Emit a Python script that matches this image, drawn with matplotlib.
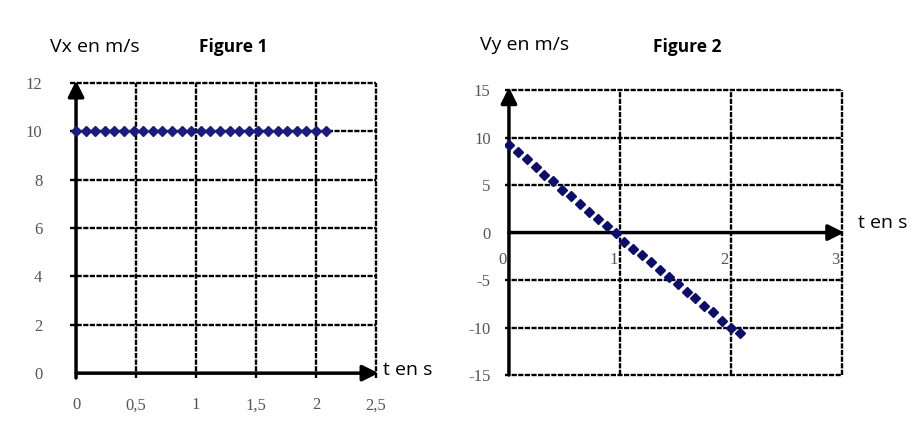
import matplotlib
matplotlib.use('Agg')
import matplotlib.pyplot as plt
import numpy as np

# Figure 1 : Vx(t), constant
t1 = [0.00, 0.08, 0.16, 0.24, 0.32, 0.40, 0.48, 0.56, 0.64, 0.72, 0.80, 0.88, 0.96, 1.04,
      1.12, 1.20, 1.28, 1.36, 1.44, 1.52, 1.60, 1.68, 1.76, 1.84, 1.92, 2.00, 2.08]
vx = [10.0] * len(t1)

# Figure 2 : Vy(t), decreasing
t2 = [0.00, 0.08, 0.16, 0.24, 0.32, 0.40, 0.48, 0.56, 0.64, 0.72, 0.80, 0.88, 0.96, 1.04,
      1.12, 1.20, 1.28, 1.36, 1.44, 1.52, 1.60, 1.68, 1.76, 1.84, 1.92, 2.00, 2.08]
vy = [9.2, 8.5, 7.7, 6.9, 6.1, 5.4, 4.5, 3.8, 3.0, 2.2, 1.4, 0.7, 0.0, -1.0,
      -1.7, -2.4, -3.1, -3.9, -4.7, -5.4, -6.3, -6.9, -7.7, -8.4, -9.3, -10.0, -10.6]

x1_ticks = [0, 0.5, 1, 1.5, 2, 2.5]
x1_labels = ['0', '0,5', '1', '1,5', '2', '2,5']
y1_ticks = [0, 2, 4, 6, 8, 10, 12]
x2_ticks = [0, 1, 2, 3]
y2_ticks = [15, 10, 5, 0, -5, -10, -15]

grid_style = dict(color='black', lw=1.7, linestyle=(0, (2.2, 0.6)), clip_on=False, zorder=1)
tick_font = dict(family='Liberation Serif', size=12, color='#555555')
label_font = dict(family='Open Sans', size=14)
arrow = dict(arrowstyle='-|>', lw=2.5, color='black', mutation_scale=24, shrinkA=0, shrinkB=0)

fig = plt.figure(figsize=(9.24, 4.22), dpi=100)

# ---- Figure 1
ax1 = fig.add_axes([0.0758, 0.1043, 0.3312, 0.699])
ax1.set_xlim(-0.05, 2.5)
ax1.set_ylim(-0.2, 12)
for s in ax1.spines.values():
    s.set_visible(False)
for y in y1_ticks[1:]:
    ax1.axhline(y, **grid_style)
for x in x1_ticks[1:]:
    ax1.axvline(x, **grid_style)
ax1.annotate('', xy=(0, 12.1), xytext=(0, -0.2), arrowprops=arrow, annotation_clip=False)
ax1.annotate('', xy=(2.52, 0), xytext=(0, 0), arrowprops=arrow, annotation_clip=False)
ax1.plot(t1, vx, linestyle='none', marker='D', markersize=5, color='#1c1c80', zorder=3)
ax1.set_xticks(x1_ticks)
ax1.set_xticklabels(x1_labels, fontdict=tick_font)
ax1.set_yticks(y1_ticks)
ax1.set_yticklabels([str(v) for v in y1_ticks], fontdict=tick_font)
ax1.tick_params(length=0, pad=14)
ax1.tick_params(axis='y', pad=20)
fig.text(50 / 924, 1 - 47 / 422, 'Vx en m/s', va='center', ha='left', **label_font)
fig.text(199 / 924, 1 - 47 / 422, 'Figure 1', va='center', ha='left',
         family='Open Sans', size=12.5, weight='bold')
fig.text(383 / 924, 1 - 370 / 422, 't en s', va='center', ha='left', **label_font)

# ---- Figure 2
ax2 = fig.add_axes([0.546, 0.1114, 0.3652, 0.675])
ax2.set_xlim(-0.04, 3)
ax2.set_ylim(-15, 15)
for s in ax2.spines.values():
    s.set_visible(False)
for y in y2_ticks:
    if y != 0:
        ax2.axhline(y, **grid_style)
for x in x2_ticks[1:]:
    ax2.axvline(x, **grid_style)
ax2.annotate('', xy=(0, 15.3), xytext=(0, -15), arrowprops=arrow, annotation_clip=False)
ax2.annotate('', xy=(3.02, 0), xytext=(0, 0), arrowprops=arrow, annotation_clip=False)
ax2.plot(t2, vy, linestyle='none', marker='D', markersize=5.5, color='#0d0d6b', zorder=3)
ax2.set_xticks([])
ax2.set_yticks(y2_ticks)
ax2.set_yticklabels([str(v) for v in y2_ticks], fontdict=tick_font)
ax2.tick_params(length=0, pad=10)
for x in x2_ticks:
    ax2.text(x - 0.02, -2.9, str(x), ha='right', va='center', **tick_font)
fig.text(480 / 924, 1 - 45 / 422, 'Vy en m/s', va='center', ha='left', **label_font)
fig.text(653 / 924, 1 - 47 / 422, 'Figure 2', va='center', ha='left',
         family='Open Sans', size=12.5, weight='bold')
fig.text(858 / 924, 1 - 223 / 422, 't en s', va='center', ha='left', **label_font)

fig.savefig('out.png', dpi=100)
